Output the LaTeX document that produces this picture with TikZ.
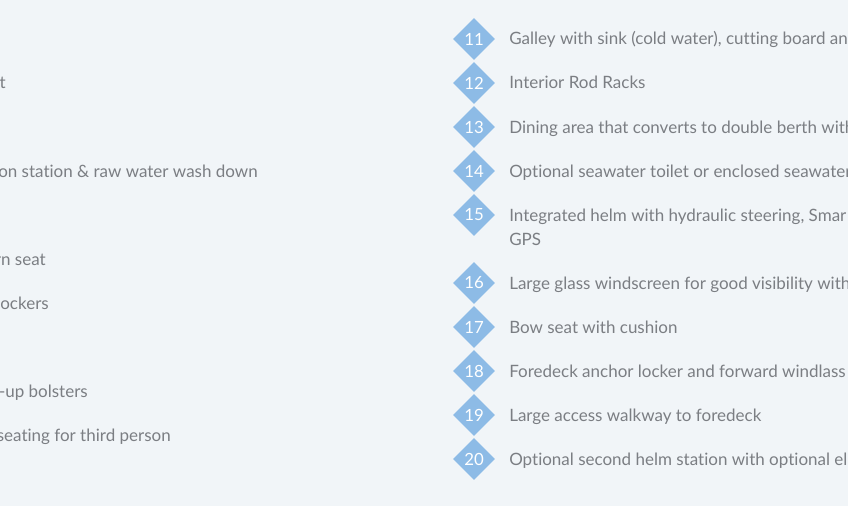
\documentclass[tikz,border=0pt]{standalone}
\usepackage{fontspec}
\setmainfont{Lato}[Ligatures=NoCommon]
\usetikzlibrary{shapes.geometric}
\definecolor{pagebg}{HTML}{F1F5F8}
\definecolor{badge}{HTML}{8DBBE6}
\definecolor{bodytext}{HTML}{7B7E83}
\newcommand{\itemfont}{\fontsize{12.75}{14}\selectfont}
\tikzset{
  x=0.75pt,y=-0.75pt,
  badgenode/.style={diamond,aspect=1,fill=badge,draw=none,inner sep=0pt,minimum size=31.5pt,text=white,font=\fontsize{12.6}{14}\selectfont},
  itemtext/.style={anchor=base west,inner sep=0pt,text=bodytext,font=\itemfont},
  lefttext/.style={anchor=base east,inner sep=0pt,text=bodytext,font=\itemfont},
}
\begin{document}
\begin{tikzpicture}
\useasboundingbox (0,0) rectangle (848,506);
\clip (0,0) rectangle (848,506);
\fill[pagebg] (0,0) rectangle (848,506);
\node[lefttext] (l2) at (6,89) {ft};
\node[lefttext] (l4) at (258,177) {ion station \& raw water wash down};
\node[lefttext] (l6) at (46,265) {rn seat};
\node[lefttext] (l7) at (49,309) {ockers};
\node[lefttext] (l9) at (88,397) {-up bolsters};
\node[lefttext] (l10) at (171,441) {seating for third person};
\foreach \n/\y in {11/39,12/83,13/127,14/171,15/215,16/283,17/327,18/371,19/415,20/459}
  \node[badgenode] (b\n) at (474,\y) {\n};
\node[itemtext] (t11) at (509,45) {Galley with sink (cold water), cutting board an};
\node[itemtext] (t12) at (509,89) {Interior Rod Racks};
\node[itemtext] (t13) at (509,133) {Dining area that converts to double berth with};
\node[itemtext] (t14) at (509,177) {Optional seawater toilet or enclosed seawater};
\node[itemtext] (t15) at (509,221) {Integrated helm with hydraulic steering, Smar};
\node[itemtext] (t15b) at (509,245) {GPS};
\node[itemtext] (t16) at (509,289) {Large glass windscreen for good visibility with};
\node[itemtext] (t17) at (509,333) {Bow seat with cushion};
\node[itemtext] (t18) at (509,377) {Foredeck anchor locker and forward windlass};
\node[itemtext] (t19) at (509,421) {Large access walkway to foredeck};
\node[itemtext] (t20) at (509,465) {Optional second helm station with optional el};
\end{tikzpicture}
\end{document}
